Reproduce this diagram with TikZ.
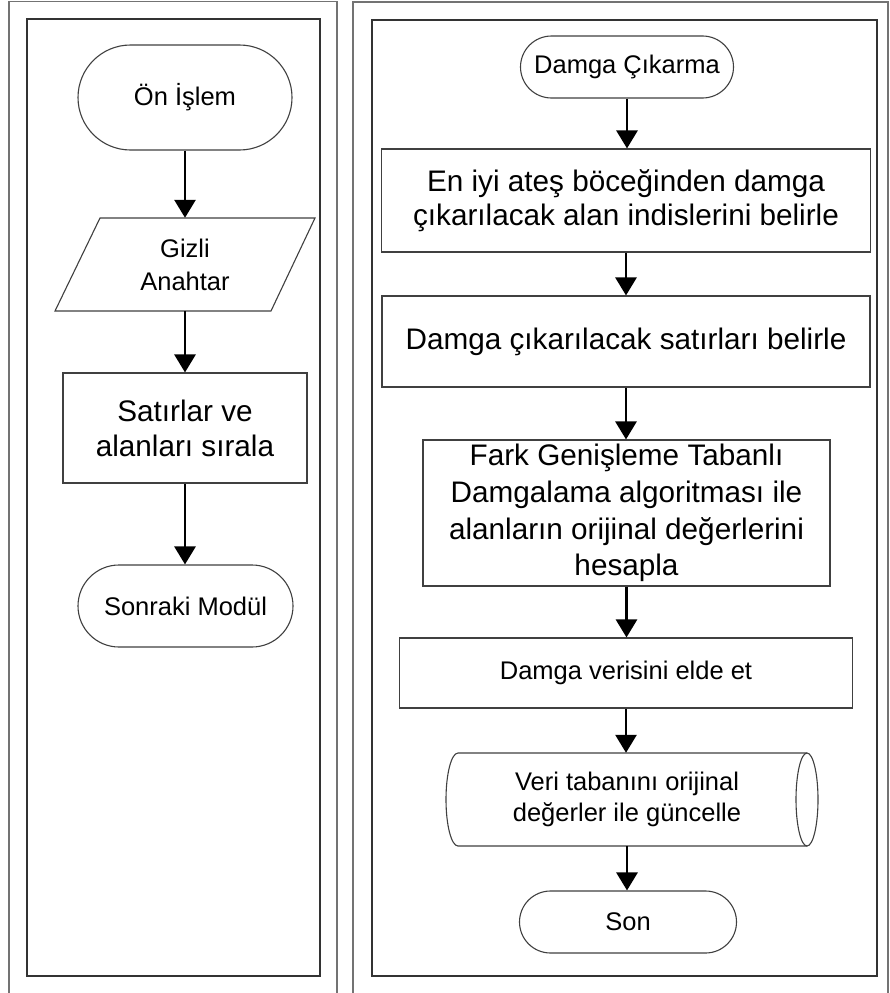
\documentclass[tikz,border=0pt]{standalone}
\usepackage{fontspec}
\setmainfont{Liberation Sans}
\usetikzlibrary{arrows.meta}

\tikzset{
  frameout/.style={draw=black!55, line width=1.4pt},
  framein/.style={draw=black!80, line width=1.4pt},
  outline/.style={draw=black!75, line width=1.1pt},
  term/.style={outline, rectangle, rounded corners=#1, inner sep=0pt, align=center},
  procbox/.style={outline, rectangle, inner sep=0pt, align=center},
  hidden/.style={rectangle, inner sep=0pt, align=center},
  flow/.style={line width=2.8pt, draw=black, -{Triangle[length=18pt,width=21pt]}},
  smalltext/.style={font=\fontsize{25.5}{33}\selectfont},
  bigtext/.style={font=\fontsize{29.7}{35}\selectfont},
}

\begin{document}
\begin{tikzpicture}[x=1pt, y=-1pt]
  \useasboundingbox (0,0) rectangle (889,993);
  \fill[white] (0,0) rectangle (889,993);

  % panel frames
  \draw[frameout] (9,995) -- (9,1.5) -- (337,1.5) -- (337,995);
  \draw[framein] (27,19) rectangle (320,976);
  \draw[frameout] (353,995) -- (353,2) -- (888,2) -- (888,995);
  \draw[framein] (372,20) rectangle (877,976);

  % ---- left flow: pre-processing ----
  \node[term=52.5pt, smalltext, minimum width=214pt, minimum height=105pt]
    (oi) at (185,97.5) {Ön İşlem};

  \node[hidden, smalltext, text width=250pt, minimum width=260pt, minimum height=93pt]
    (gizli) at (185,264.5) {Gizli\\Anahtar};
  \draw[outline] (55,311) -- (100,218) -- (315,218) -- (271,311) -- cycle;

  \node[procbox, bigtext, minimum width=244pt, minimum height=110pt]
    (sat) at (185,428) {Satırlar ve\\alanları sırala};

  \node[term=41pt, smalltext, minimum width=215pt, minimum height=82pt]
    (sm) at (185.5,606) {Sonraki Modül};

  \draw[flow] (oi.south) -- (gizli.north);
  \draw[flow] (gizli.south) -- (sat.north);
  \draw[flow] (sat.south) -- (sat.south |- sm.north);

  % ---- right flow: watermark extraction ----
  \node[term=31pt, smalltext, minimum width=213pt, minimum height=62pt]
    (dc) at (627,67) {Damga Çıkarma};

  \node[procbox, font=\fontsize{29.7}{34}\selectfont, minimum width=489pt, minimum height=103pt]
    (b1) at (626,200.5) {En iyi ateş böceğinden damga\\çıkarılacak alan indislerini belirle};

  \node[procbox, bigtext, minimum width=488pt, minimum height=91pt]
    (b2) at (626,341.5) {Damga çıkarılacak satırları belirle};

  \node[procbox, font=\fontsize{29.7}{36.7}\selectfont, minimum width=407pt, minimum height=146pt]
    (b3) at (626.5,513) {Fark Genişleme Tabanlı\\Damgalama algoritması ile\\alanların orijinal değerlerini\\hesapla};

  \node[procbox, smalltext, minimum width=453pt, minimum height=70pt]
    (b4) at (626,673) {Damga verisini elde et};

  \node[hidden, font=\fontsize{25.5}{31}\selectfont, minimum width=340pt, minimum height=93pt]
    (veri) at (627,799.5) {Veri tabanını orijinal\\değerler ile güncelle};
  \draw[outline] (807,753) -- (458,753)
    arc[start angle=90, end angle=270, x radius=12pt, y radius=46.5pt]
    -- (807,846);
  \draw[outline] (807,799.5) ellipse[x radius=11pt, y radius=46.5pt];

  \node[term=31pt, smalltext, minimum width=217pt, minimum height=62pt]
    (son) at (628,922) {Son};

  \draw[flow] (dc.south) -- (dc.south |- b1.north);
  \draw[flow] (b1.south) -- (b2.north);
  \draw[flow] (b2.south) -- (b2.south |- b3.north);
  \draw[flow] (b3.south) -- (b3.south |- b4.north);
  \draw[flow] (b4.south) -- (b4.south |- veri.north);
  \draw[flow] (veri.south) -- (veri.south |- son.north);
\end{tikzpicture}
\end{document}
